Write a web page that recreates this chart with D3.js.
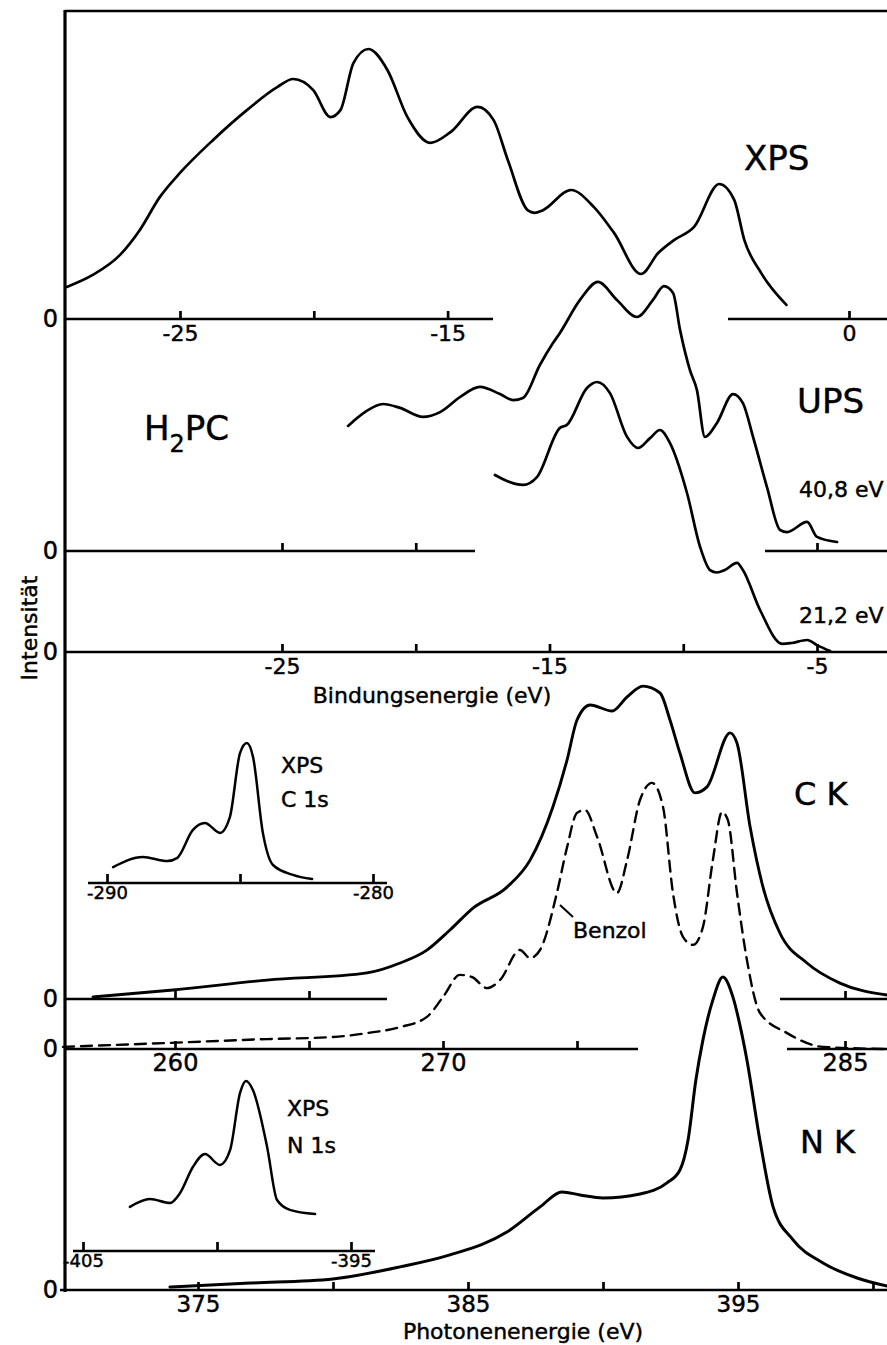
<!DOCTYPE html>
<html>
<head>
<meta charset="utf-8">
<script src="https://cdn.jsdelivr.net/npm/d3@7"></script>
<style>
  body { margin: 0; background: #fff; }
  svg text { font-family: "DejaVu Sans", sans-serif; fill: #000; stroke: #000; stroke-width: 0.45px; }
</style>
</head>
<body>
<svg id="chart" width="887" height="1345"></svg>
<script>
"use strict";

// --- spectra: [energy eV, intensity arb. units] ---
const xpsValence = [
    [-29.23, 10.7], [-28.26, 14.7], [-27.25, 21.3], [-26.5, 29.7], [-25.75, 40.7],
    [-25.0, 48.7], [-23.76, 59.7], [-22.49, 69.7], [-21.37, 77.3], [-20.77, 80],
    [-20.02, 76.3], [-19.38, 67.3], [-19.0, 69.7], [-18.52, 85.3], [-17.96, 90],
    [-17.25, 83], [-16.5, 67.3], [-15.64, 58.7], [-14.89, 62.3], [-13.88, 70.7],
    [-13.28, 66.3], [-12.75, 53], [-12.0, 36.2], [-11.75, 35.4], [-11.45, 36.2], [-10.39, 43],
    [-9.53, 37.3], [-8.78, 28.7], [-7.77, 15], [-7.13, 22], [-6.54, 26.3],
    [-5.79, 30.7], [-4.85, 45], [-4.29, 39.7], [-3.91, 26.3], [-3.28, 15.3], [-2.34, 4.7]
];
const ups408 = [
    [-22.53, 41.7], [-21.9, 46.3], [-21.22, 49], [-20.59, 47.7], [-19.73, 44.7],
    [-19.09, 46.3], [-18.35, 51.3], [-17.6, 54.7], [-16.85, 52.3], [-16.36, 50.3],
    [-15.99, 51], [-15.36, 62], [-14.87, 69.3], [-14.61, 72.7], [-13.86, 83.7],
    [-13.19, 89.7], [-12.48, 83.7], [-11.73, 78], [-11.13, 83.7], [-10.72, 88.3],
    [-10.38, 86], [-10.12, 73.7], [-9.75, 60.3], [-9.49, 53.7], [-9.19, 38],
    [-8.74, 42.7], [-8.14, 52.3], [-7.77, 49.3], [-7.39, 38], [-6.87, 21.3],
    [-6.38, 7], [-6.12, 6.3], [-5.37, 9.7], [-5.0, 4.7], [-4.25, 3]
];
const ups212 = [
    [-17.04, 59], [-15.99, 55.7], [-15.47, 58.3], [-14.61, 74.7], [-14.35, 75.7],
    [-13.6, 88], [-13.22, 90], [-12.74, 86.3], [-12.1, 71.7], [-11.69, 68],
    [-11.24, 71.3], [-10.87, 74], [-10.5, 69.7], [-9.86, 53], [-9.37, 35],
    [-9.0, 27.3], [-8.75, 26.5], [-8.45, 27.3], [-7.99, 29.7], [-7.77, 27.3], [-7.13, 14],
    [-6.3, 2.7], [-5.95, 3], [-5.37, 4], [-5.0, 2.3], [-4.51, 0.3]
];
const ckEmission = [
    [256.94, 0.7], [259.93, 3], [263.43, 6.3], [267.16, 8.7], [268.4, 12],
    [269.4, 16.3], [270.26, 23], [271.12, 30.3], [272.39, 37.3], [273.25, 46.3],
    [274.1, 64], [274.63, 79.7], [275.0, 93], [275.49, 98], [276.31, 96],
    [276.87, 100.7], [277.46, 104.3], [278.1, 102], [278.47, 93], [278.84, 82],
    [279.4, 68.7], [279.85, 70.7], [280.71, 88.7], [280.97, 85.3], [281.46, 57.3],
    [281.94, 37.3], [282.57, 22], [283.58, 12], [284.81, 5.3], [286.57, 1.3]
];
const benzolCK = [
    [255.82, 0.7], [259.7, 2], [263.43, 3.3], [265.9, 4], [267.16, 5.3],
    [268.4, 7.3], [269.4, 10.7], [270.0, 17.3], [270.63, 24.7], [271.08, 24],
    [271.64, 20.3], [272.13, 23], [272.87, 33], [273.25, 30.3], [273.62, 33],
    [274.25, 52], [274.63, 67.3], [275.0, 78.7], [275.3, 79.7], [275.75, 70.7],
    [276.49, 52], [276.87, 63], [277.35, 83], [277.8, 88.7], [278.21, 80.7],
    [278.58, 52], [278.96, 37.3], [279.33, 34.7], [279.7, 40.7], [280.07, 63],
    [280.41, 79], [280.63, 76.3], [280.97, 52], [281.34, 29.7], [281.83, 12],
    [282.84, 5.3], [284.18, 0.7], [286.57, 0]
];
const xpsC1s = [
    [-289.77, 5.3], [-288.65, 8.7], [-287.74, 7.3], [-287.37, 8.3], [-286.77, 17.7],
    [-286.32, 20], [-285.75, 16.7], [-285.38, 22], [-285.0, 43.3], [-284.74, 46.7],
    [-284.51, 42], [-284.14, 16.7], [-283.76, 6], [-283.01, 2.7], [-282.29, 1.3]
];
const nkEmission = [
    [373.96, 1], [376.93, 2.3], [380.0, 3.7], [382.48, 7.7], [384.33, 11.7],
    [386.44, 19.3], [387.67, 27.7], [388.48, 32.7], [389.15, 31.7],
    [390.0, 30.7], [391.37, 32], [392.37, 35.7], [392.85, 40], [393.15, 50],
    [393.44, 70], [393.7, 83.3], [394.07, 96.7], [394.44, 104.3], [394.81, 97.7],
    [395.11, 86.7], [395.33, 76.7], [395.81, 50], [396.3, 27.7], [397.04, 16.7],
    [398.15, 9], [399.41, 4], [400.52, 1.3]
];
const xpsN1s = [
    [-403.25, 14.7], [-402.5, 17.3], [-401.75, 16], [-401.38, 19.3], [-400.9, 28],
    [-400.45, 32.3], [-399.89, 28.7], [-399.51, 33.7], [-399.14, 52.7], [-398.92, 56.7],
    [-398.66, 53.7], [-398.13, 34.7], [-397.76, 17], [-397.28, 13.7], [-396.34, 12.3]
];

// --- tick values and labels ---
const xpsTicks = [-25, -20, -15, 0];
const xpsTickLabels = [-25, -15, 0];
const ups408Ticks = [-25, -20, -5];
const ups212Ticks = [-25, -20, -15, -10, -5];
const upsTickLabels = [-25, -15, -5];
const ckTicks = [260, 265, 285];
const benzolTicks = [260, 265, 270, 275, 285];
const ckTickLabels = [260, 270, 285];
const c1sTicks = [-290, -285, -280];
const c1sTickLabels = [-290, -280];
const nkTicks = [375, 380, 385, 390, 395, 400];
const nkTickLabels = [375, 385, 395];
const n1sTicks = [-405, -400, -395];
const n1sTickLabels = [-405, -395];

const svg = d3.select("#chart");
const AXIS_X = 65;
const INK = "#000";

// x scales (px / eV is the same for every panel, as in the original)
const xXps = d3.scaleLinear().domain([-25, 0]).range([180, 849]);
const xUps = d3.scaleLinear().domain([-25, -5]).range([282, 817]);
const xCK = d3.scaleLinear().domain([260, 285]).range([175, 845]);
const xC1s = d3.scaleLinear().domain([-290, -280]).range([107, 373]);
const xNK = d3.scaleLinear().domain([375, 395]).range([198, 738]);
const xN1s = d3.scaleLinear().domain([-405, -395]).range([83, 351]);

// every panel: 100 intensity units = 300 px
const yFor = (base) => d3.scaleLinear().domain([0, 100]).range([base, base - 300]);

/**
 * Baseline with upward ticks and labels below, broken into segments
 */
const drawBaseline = (scale, base, segments, ticks, labels, opts = {}) => {
    const g = svg.append("g");
    segments.forEach(([x0, x1]) => {
        g.append("line")
            .attr("x1", x0).attr("x2", x1)
            .attr("y1", base).attr("y2", base)
            .attr("stroke", INK)
            .attr("stroke-width", opts.width || 2.7);
    });
    const axis = d3.axisBottom(scale)
        .tickValues(ticks)
        .tickSizeInner(-(opts.tick || 8))
        .tickSizeOuter(0)
        .tickPadding(opts.pad || 6)
        .tickFormat((d) => (labels.includes(d) ? String(d) : ""));
    const ag = g.append("g")
        .attr("transform", `translate(0,${base})`)
        .call(axis);
    ag.select(".domain").remove();
    ag.selectAll(".tick line").attr("stroke", INK).attr("stroke-width", 2.7);
    ag.selectAll(".tick text")
        .attr("fill", INK)
        .style("font-size", `${opts.font || 22}px`);
    return g;
};

const drawCurve = (data, xs, ys, opts = {}) => {
    const line = d3.line()
        .x((d) => xs(d[0]))
        .y((d) => ys(d[1]))
        .curve(d3.curveMonotoneX);
    svg.append("path")
        .datum(data)
        .attr("d", line)
        .attr("fill", "none")
        .attr("stroke", INK)
        .attr("stroke-width", opts.width || 2.7)
        .attr("stroke-linejoin", "round")
        .attr("stroke-linecap", "round")
        .attr("stroke-dasharray", opts.dash || null);
};

const label = (text, x, y, size, anchor = "start") =>
    svg.append("text")
        .attr("x", x).attr("y", y)
        .attr("text-anchor", anchor)
        .style("font-size", `${size}px`)
        .text(text);

// frame: left intensity axis and top rule
svg.append("line")
    .attr("x1", AXIS_X).attr("x2", AXIS_X)
    .attr("y1", 10).attr("y2", 1292)
    .attr("stroke", INK).attr("stroke-width", 3.2);
svg.append("line")
    .attr("x1", AXIS_X).attr("x2", 887)
    .attr("y1", 11).attr("y2", 11)
    .attr("stroke", INK).attr("stroke-width", 2.7);

// panel bases
const BASE_XPS = 319;
const BASE_U40 = 551;
const BASE_U21 = 652;
const BASE_CK = 999;
const BASE_BZ = 1049;
const BASE_C1S = 883;
const BASE_NK = 1290;
const BASE_N1S = 1251;

// XPS valence band
drawBaseline(xXps, BASE_XPS, [[AXIS_X, 493], [728, 887]], xpsTicks, xpsTickLabels);
drawCurve(xpsValence, xXps, yFor(BASE_XPS));

// UPS 40.8 / 21.2 eV
drawBaseline(xUps, BASE_U40, [[AXIS_X, 475], [765, 887]], ups408Ticks, []);
drawBaseline(xUps, BASE_U21, [[AXIS_X, 887]], ups212Ticks, upsTickLabels);
drawCurve(ups408, xUps, yFor(BASE_U40));
drawCurve(ups212, xUps, yFor(BASE_U21));

// C K emission and benzene reference
drawBaseline(xCK, BASE_CK, [[AXIS_X, 387], [780, 887]], ckTicks, []);
drawBaseline(xCK, BASE_BZ, [[AXIS_X, 638], [787, 887]], benzolTicks, ckTickLabels, { font: 24, pad: 5 });
drawCurve(ckEmission, xCK, yFor(BASE_CK), { width: 2.9 });
drawCurve(benzolCK, xCK, yFor(BASE_BZ), { width: 2.4, dash: "11,7" });

// inset XPS C 1s
drawBaseline(xC1s, BASE_C1S, [[88, 387]], c1sTicks, c1sTickLabels, { font: 18, pad: 3, tick: 9 });
drawCurve(xpsC1s, xC1s, yFor(BASE_C1S), { width: 2.5 });

// N K emission
drawBaseline(xNK, BASE_NK, [[60, 887]], nkTicks, nkTickLabels, { font: 23, pad: 6 });
drawCurve(nkEmission, xNK, yFor(BASE_NK), { width: 3 });

// inset XPS N 1s
drawBaseline(xN1s, BASE_N1S, [[73, 375]], n1sTicks, n1sTickLabels, { font: 18, pad: 3, tick: 9 });
drawCurve(xpsN1s, xN1s, yFor(BASE_N1S), { width: 2.5 });

// zero labels on the intensity axis
[BASE_XPS, BASE_U40, BASE_U21, BASE_CK, BASE_BZ, BASE_NK].forEach((b) =>
    label("0", 58, b + 8, 24, "end"));

// benzene leader line
svg.append("line")
    .attr("x1", 560).attr("y1", 905)
    .attr("x2", 573).attr("y2", 917)
    .attr("stroke", INK).attr("stroke-width", 2);

// texts
label("XPS", 744, 170, 34);
label("UPS", 797, 413, 34);
const h2pc = label("H", 144, 440, 34);
h2pc.append("tspan").attr("dy", 12).style("font-size", "24px").text("2");
h2pc.append("tspan").attr("dy", -12).text("PC");
label("40,8 eV", 799, 497, 22);
label("21,2 eV", 799, 623, 22);
label("C  K", 794, 805, 32);
label("N  K", 800, 1153, 32);
label("Benzol", 573, 938, 22);
label("XPS", 281, 773, 22);
label("C 1s", 281, 807, 22);
label("XPS", 287, 1116, 22);
label("N 1s", 287, 1153, 22);
label("Bindungsenergie (eV)", 432, 703, 22, "middle");
label("Photonenenergie (eV)", 523, 1339, 22, "middle");
svg.append("text")
    .attr("transform", "translate(37,628) rotate(-90)")
    .attr("text-anchor", "middle")
    .style("font-size", "22px")
    .text("Intensität");
</script>
</body>
</html>
